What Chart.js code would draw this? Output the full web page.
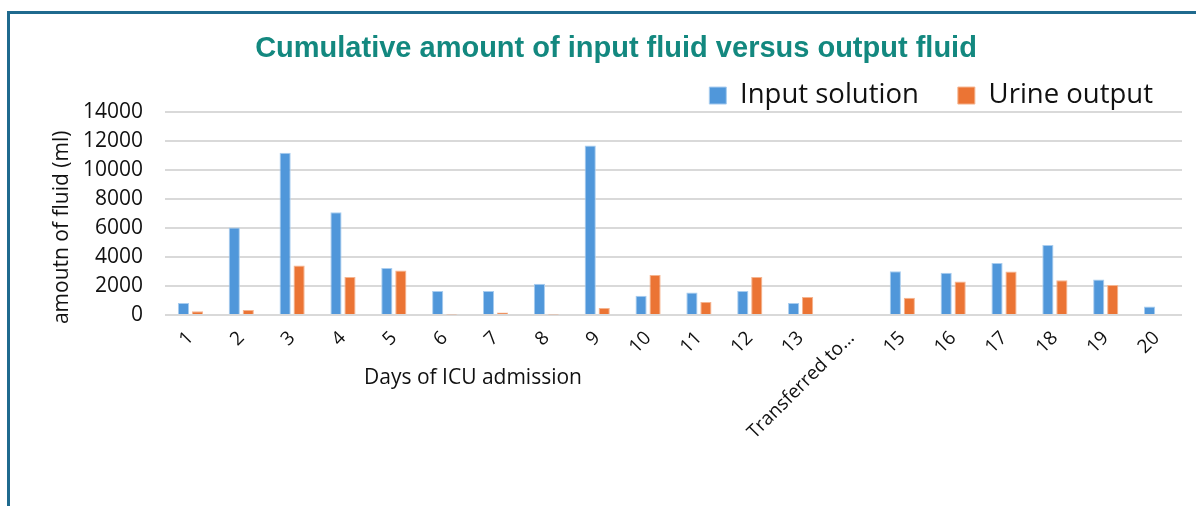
<!DOCTYPE html>
<html lang="en">
    <head>
        <meta charset="UTF-8">
        <title>Input vs output fluid</title>
        <script src="https://cdn.jsdelivr.net/npm/chart.js"></script>
        <style type="text/css">
            html, body {
                margin: 0;
                padding: 0;
                background: #ffffff;
            }
            .frame {
                position: absolute;
                left: 7px;
                top: 11px;
                width: 1200px;
                height: 500px;
                border-top: 3px solid #1f6a8e;
                border-left: 3px solid #1f6a8e;
            }
            .chart {
                position: absolute;
                left: 0;
                top: 0;
                width: 1196px;
                height: 506px;
            }
        </style>
    </head>
    <body>
        <div class="frame"></div>
        <div class="chart">
            <canvas id="myChart" width="1196" height="506"></canvas>
        </div>
        <script>
            // values (ml)
            const days = ['1', '2', '3', '4', '5', '6', '7', '8', '9', '10',
                '11', '12', '13', 'Transferred to\u2026', '15', '16', '17', '18', '19', '20'];
            const inputSolution = [830, 6050, 11200, 7100, 3250, 1650, 1650, 2150, 11700, 1330,
                1560, 1650, 830, null, 3030, 2920, 3600, 4830, 2460, 580];
            const urineOutput = [260, 350, 3420, 2620, 3080, 40, 170, 40, 480, 2760,
                900, 2620, 1240, null, 1200, 2320, 3000, 2400, 2070, null];
            const yMax = 14000;
            const yStep = 2000;

            const tickFont = { family: "'Open Sans', sans-serif", size: 21 };

            // axis titles sit off-centre in the original, so they are drawn by hand
            const axisTitles = {
                id: 'axisTitles',
                afterInit(chart) {
                    // the legend box is a bit shorter than Chart.js makes it
                    const legend = chart.legend;
                    const fit = legend.fit;
                    legend.fit = function () {
                        fit.call(this);
                        this.height -= 7;
                    };
                },
                afterLayout(chart) {
                    chart.legend.left += 10;
                    chart.legend.right += 10;
                },
                afterDraw(chart) {
                    const ctx = chart.ctx;
                    const area = chart.chartArea;
                    ctx.save();
                    ctx.font = "21px 'Open Sans', sans-serif";
                    ctx.fillStyle = '#111111';
                    ctx.textAlign = 'center';
                    ctx.textBaseline = 'middle';
                    ctx.fillText('Days of ICU admission', area.left + 308, area.bottom + 63);
                    ctx.translate(62, area.top + 115);
                    ctx.rotate(-Math.PI / 2);
                    ctx.fillText('amoutn of fluid (ml)', 0, 0);
                    ctx.restore();
                }
            };

            const data = {
                labels: days,
                datasets: [{
                    label: 'Input solution',
                    data: inputSolution,
                    backgroundColor: '#5097da',
                    borderColor: '#a9cdef',
                    borderWidth: 1
                },
                {
                    label: 'Urine output',
                    data: urineOutput,
                    backgroundColor: '#eb7434',
                    borderColor: '#f5b48f',
                    borderWidth: 1
                }]
            };

            const config = {
                type: 'bar',
                data: data,
                plugins: [axisTitles],
                options: {
                    responsive: false,
                    animation: false,
                    layout: {
                        padding: { left: 50, right: 14, top: 0, bottom: 0 }
                    },
                    datasets: {
                        bar: { categoryPercentage: 0.55, barPercentage: 0.8 }
                    },
                    plugins: {
                        title: {
                            display: true,
                            text: 'Cumulative amount of input fluid versus output fluid',
                            color: '#13887f',
                            font: { family: "'Liberation Sans', Arial, sans-serif", size: 29, weight: 'bold' },
                            padding: { top: 32, bottom: -24 }
                        },
                        legend: {
                            display: true,
                            align: 'end',
                            labels: {
                                color: '#111111',
                                font: { family: "'Open Sans', sans-serif", size: 27.5 },
                                boxWidth: 17,
                                boxHeight: 17,
                                padding: 39,
                                useBorderRadius: false
                            }
                        },
                        tooltip: { enabled: false }
                    },
                    scales: {
                        x: {
                            grid: { display: false },
                            border: { display: false },
                            ticks: {
                                color: '#111111',
                                font: { family: "'Open Sans', sans-serif", size: 19 },
                                minRotation: 45,
                                maxRotation: 45,
                                autoSkip: false,
                                padding: 4
                            },
                            afterFit(scale) { scale.height = 191; }
                        },
                        y: {
                            min: 0,
                            max: yMax,
                            grid: { color: '#d9d9d9', lineWidth: 2, drawTicks: false },
                            border: { display: false },
                            ticks: {
                                stepSize: yStep,
                                autoSkip: false,
                                color: '#111111',
                                font: tickFont,
                                padding: 22,
                                callback: v => String(v)
                            },
                            afterFit(scale) { scale.width = 115; }
                        }
                    }
                }
            };

            const myChart = new Chart(document.getElementById('myChart'), config);
        </script>
    </body>
</html>
